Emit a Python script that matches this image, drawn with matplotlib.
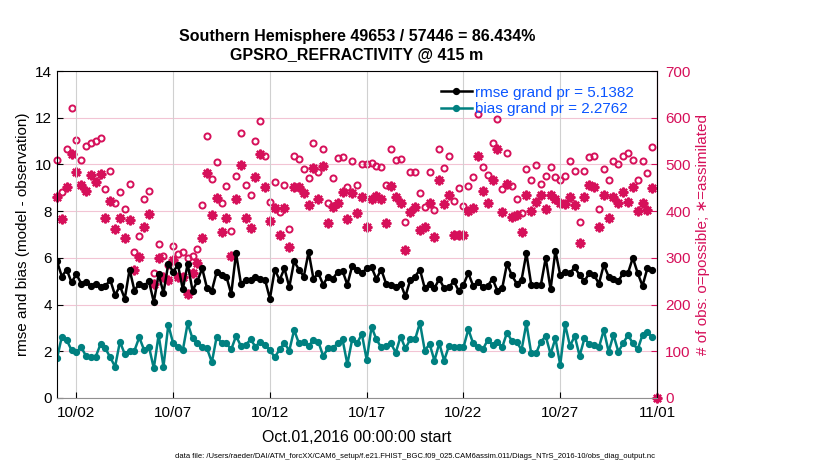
import pandas as pd
import numpy as np
import matplotlib
matplotlib.use("Agg")
import matplotlib.pyplot as plt
import matplotlib.dates as mdates

plt.rcParams['font.family'] = ['Liberation Sans', 'DejaVu Sans']

# 6-hourly bins starting Oct 1 2016; last bin (11/01) holds no data
times = pd.date_range("2016-10-01 00:00", periods=125, freq="6h")

rmse = [5.85, 5.2, 5.5, 4.95, 5.3, 4.9, 4.95, 4.8, 4.9, 4.75, 4.8, 5.05, 4.4, 4.8, 4.25, 5.5, 4.6, 4.9, 4.8, 5.0, 4.1,
        5.3, 4.5, 5.75, 5.4, 5.7, 4.65, 5.75, 4.6, 5.0, 5.55, 4.7, 4.6, 5.4, 5.25, 5.2, 4.45, 6.2, 4.9, 5.05, 5.05,
        5.2, 5.1, 5.05, 4.25, 5.5, 5.05, 5.55, 4.75, 5.85, 5.5, 5.2, 6.25, 5.1, 5.35, 4.85, 5.2,
        5.1, 5.4, 5.45, 4.85, 5.65, 5.5, 5.35, 5.55, 5.6, 5.1, 5.5, 4.9, 4.85, 4.75, 4.9, 4.35, 5.05, 5.2, 5.5, 4.7,
        4.9, 4.7, 5.1, 4.7, 4.75, 5.0, 4.6, 4.85, 5.35, 4.8, 4.95, 4.75, 4.8, 5.1, 4.6, 4.7, 5.75, 5.25, 4.9, 5.05,
        6.2, 4.85, 4.85, 4.85, 6.0, 4.65, 6.3, 5.25, 5.4, 5.35, 5.6, 5.25, 5.0, 5.35, 5.25, 4.9, 5.7, 5.2, 5.1, 5.0,
        5.35, 5.35, 6.0, 5.35, 4.8, 5.55, 5.5, np.nan]

bias = [1.7, 2.63, 2.48, 2.05, 1.98, 2.17, 1.8, 1.74, 1.77, 2.31, 2.12, 1.74, 1.34, 2.41, 1.88, 2.03, 2.03, 2.6, 2.05, 2.2,
        1.27, 2.7, 1.34, 3.13, 2.34, 2.2, 2.05, 3.2, 2.55, 2.34, 2.2, 2.12, 1.53, 2.63, 2.36, 2.34, 2.08, 2.65, 2.23, 2.27,
        2.51, 2.2, 2.41, 2.27, 2.05, 1.74, 2.08, 2.34, 2.03, 2.91, 2.34, 2.41, 2.23, 2.48, 2.41, 1.8, 2.12,
        2.13, 2.34, 2.51, 1.45, 2.51, 2.34, 2.74, 1.63, 3.05, 2.51, 2.17, 2.23, 2.34, 1.94, 2.63, 2.12, 2.51, 2.51, 3.22, 2.03,
        2.31, 1.6, 2.34, 1.6, 2.23, 2.17, 2.17, 2.17, 2.94, 2.34, 2.17, 2.08, 2.48, 2.27, 2.41, 2.17, 2.8, 2.44, 2.41, 2.05,
        3.2, 1.91, 1.91, 2.41, 2.65, 1.88, 2.55, 1.41, 3.15, 2.23, 2.65, 1.8, 2.55, 2.31, 2.27, 2.17, 2.91, 1.98, 2.7, 1.98,
        2.34, 2.7, 2.34, 2.08, 2.7, 2.84, 2.6, np.nan]

n_possible = [509, 440, 534, 620, 552, 509, 540, 545, 550, 556, 447, 486, 417, 440, 405, 459, 313, 347, 427, 443, 267,
              330, 303, 285, 325, 308, 313, 300, 304, 319, 413, 561, 469, 506, 417, 454, 357, 475, 568, 456, 434, 550,
              593, 517, 420, 462, 399, 456, 361, 518, 511, 490, 470, 545, 483, 534, 417, 472, 513, 515, 452, 507,
              456, 502, 500, 504, 496, 494, 457, 534, 509, 511, 376, 484, 484, 438, 409, 483, 402, 532, 492, 518, 422,
              450, 410, 454, 474, 609, 495, 477, 545, 597, 447, 524, 454, 427, 397, 490, 467, 499, 459, 476, 495, 474,
              467, 476, 507, 486, 376, 486, 515, 519, 404, 490, 467, 507, 502, 519, 524, 509, 467, 507, 481, 537, 0]

n_assim = [431, 383, 452, 522, 483, 457, 443, 477, 462, 479, 386, 422, 362, 386, 343, 381, 274, 302, 367, 393, 245,
           299, 260, 253, 295, 258, 258, 222, 267, 288, 342, 481, 392, 429, 356, 385, 304, 425, 499, 386, 363, 474,
           522, 452, 379, 406, 349, 406, 324, 452, 452, 438, 413, 493, 426, 496, 374, 409, 417, 440, 383, 438,
           395, 431, 367, 427, 433, 426, 374, 454, 431, 417, 317, 399, 409, 360, 367, 417, 345, 467, 415, 434, 349,
           349, 349, 400, 407, 517, 443, 417, 466, 534, 399, 459, 388, 392, 355, 434, 400, 420, 434, 404, 434, 425,
           418, 415, 431, 413, 331, 431, 456, 452, 365, 434, 385, 431, 418, 442, 420, 452, 400, 418, 402, 450, 0]

rmse_label = "rmse grand pr = 5.1382"
bias_label = "bias grand pr = 2.2762"
title_text = "Southern Hemisphere 49653 / 57446 = 86.434%\nGPSRO_REFRACTIVITY @ 415 m"
datafile = ("data file: /Users/raeder/DAI/ATM_forcXX/CAM6_setup/f.e21.FHIST_BGC.f09_025.CAM6assim.011/"
            "Diags_NTrS_2016-10/obs_diag_output.nc")

pink = '#D6105A'
teal = '#008080'
blue = '#0A55FF'

fig = plt.figure(figsize=(8.3, 4.7), dpi=100)
ax = fig.add_axes([0.0687, 0.1532, 0.7229, 0.6957])
ax2 = ax.twinx()

# counts on the right axis
ax2.plot(times, n_possible, linestyle='none', marker='o', ms=4.4, mfc='none', mec=pink, mew=1.4, clip_on=False)
ax2.plot(times, n_assim, linestyle='none', marker=(8, 2, 0), ms=7, mec=pink, mew=1.6, clip_on=False)
ax2.set_ylim(0, 700)
ax2.set_yticks(range(0, 701, 100))
ax2.tick_params(axis='y', colors=pink, labelsize=11, direction='in', length=4, pad=6)
ax2.set_ylabel("# of obs: o=possible; \u2217=assimilated", color=pink, fontsize=11, labelpad=4)
ax2.spines['right'].set_color(pink)
ax2.grid(axis='y', color='#F2C4D4', lw=0.8)
ax2.set_axisbelow(True)

# rmse / bias on the left axis, drawn on top
ax.set_zorder(ax2.get_zorder() + 1)
ax.patch.set_visible(False)
l1, = ax.plot(times, rmse, color='k', lw=1.8, marker='o', ms=4.2, label=rmse_label)
l2, = ax.plot(times, bias, color=teal, lw=1.8, marker='o', ms=4.2, label=bias_label)
ax.set_ylim(0, 14)
ax.set_yticks(range(0, 15, 2))
ax.set_xlim(pd.Timestamp("2016-10-01"), pd.Timestamp("2016-11-01"))
ax.set_xticks(pd.date_range("2016-10-02", periods=7, freq="5D"))
ax.xaxis.set_major_formatter(mdates.DateFormatter("%m/%d"))
ax.tick_params(labelsize=11, direction='in', length=4)
ax.tick_params(axis='x', pad=6)
ax.grid(axis='x', color='#D0D0D0', lw=0.8)
ax.set_ylabel("rmse and bias (model - observation)", fontsize=11)
ax.set_xlabel("Oct.01,2016 00:00:00 start", fontsize=11.5, labelpad=7)
ax.set_title(title_text, fontsize=11.5, fontweight='bold', pad=8, linespacing=1.35)
ax.spines['bottom'].set_color('#909090')
for s in ['left', 'top', 'bottom']:
    ax2.spines[s].set_visible(False)

leg = ax.legend(handles=[l1, l2], loc='upper left', bbox_to_anchor=(0.64, 0.955), frameon=False,
                fontsize=11, handlelength=2.0, handletextpad=0.2, labelspacing=0.15, borderpad=0,
                borderaxespad=0, labelcolor=blue)

fig.text(0.5, 0.028, datafile, ha='center', va='center', fontsize=5.5)

fig.savefig("out.png", dpi=100)
